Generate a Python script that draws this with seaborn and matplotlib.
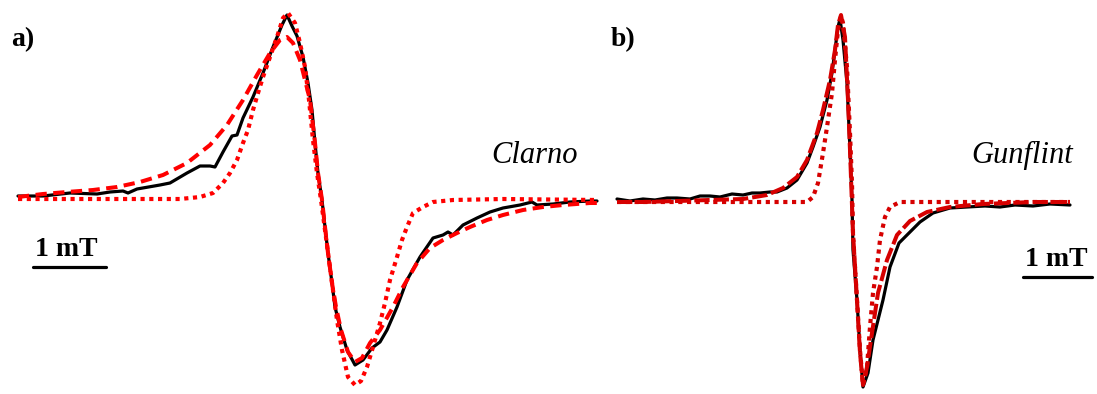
import numpy as np
import pandas as pd
import matplotlib
matplotlib.use("Agg")
import matplotlib.pyplot as plt
import seaborn as sns

sns.set_style("white")
plt.rcParams["font.family"] = ["Liberation Serif", "DejaVu Serif"]
plt.rcParams["text.color"] = "black"

# Panel a) Clarno: field (a.u.) and signal (a.u.)
clarno_exp_x = [18, 43, 70, 97, 110, 123, 128, 137, 160, 170, 187, 200, 210, 215, 223, 232, 237,
                243, 253, 263, 273, 282, 287, 292, 297, 303, 308, 312, 315, 318, 322, 325, 328,
                332, 335, 340, 347, 355, 363, 372, 380, 387, 397, 407, 420, 433, 443, 448, 453,
                463, 477, 490, 503, 520, 532, 537, 553, 570, 590, 597]
clarno_exp_y = [2, 2, 5, 4, 6, 7, 5, 9, 13, 15, 25, 32, 32, 31, 46, 62, 63,
                80, 101, 125, 151, 173, 183, 172, 162, 141, 115, 88, 55, 25, -2, -29, -55,
                -85, -109, -129, -152, -167, -162, -150, -144, -132, -109, -82, -59, -40, -37, -34, -37,
                -27, -20, -14, -10, -7, -4, -7, -6, -4, -3, -3]

clarno_fit1_x = [18, 43, 67, 93, 117, 140, 163, 187, 210, 227, 243, 257, 270, 280, 287, 293, 300,
                 305, 310, 315, 318, 322, 325, 328, 332, 336, 341, 348, 355, 362, 370, 380, 393,
                 403, 417, 430, 443, 457, 470, 487, 503, 523, 543, 563, 590, 597]
clarno_fit1_y = [1, 4, 6, 8, 11, 16, 23, 35, 53, 73, 98, 123, 145, 158, 161, 155, 138,
                 118, 98, 55, 25, -2, -29, -55, -85, -109, -132, -154, -164, -160, -145, -132, -109,
                 -89, -65, -50, -42, -35, -29, -22, -17, -12, -9, -7, -5, -5]

clarno_fit2_x = [18, 100, 180, 200, 213, 223, 230, 237, 243, 248, 253, 258, 263, 270, 277, 283, 288,
                 295, 300, 305, 309, 313, 317, 321, 325, 329, 333, 337, 342, 348, 355, 361, 367,
                 373, 380, 385, 390, 397, 402, 407, 413, 423, 433, 453, 503, 597]
clarno_fit2_y = [-1, -1, -1, 1, 5, 15, 25, 38, 55, 68, 88, 105, 121, 141, 161, 180, 185,
                 175, 155, 131, 98, 58, 25, -2, -32, -62, -92, -122, -152, -179, -187, -183, -169,
                 -149, -125, -105, -82, -59, -42, -29, -15, -9, -4, -2, -1, -2]

# Panel b) Gunflint
gunflint_exp_x = [17, 30, 43, 55, 67, 77, 90, 100, 110, 120, 132, 143, 152, 160, 170, 177, 187,
                  197, 207, 213, 220, 227, 232, 235, 238, 240, 243, 247, 250, 252, 253, 257, 260,
                  263, 268, 273, 283, 290, 299, 310, 320, 333, 350, 367, 385, 400, 415, 433, 450, 470]
gunflint_exp_y = [2, 0, 2, 1, 3, 3, 2, 5, 5, 4, 7, 6, 8, 8, 9, 9, 13,
                  21, 38, 54, 74, 101, 128, 151, 174, 182, 161, 118, 51, 1, -49, -99, -149,
                  -186, -172, -139, -99, -66, -42, -31, -21, -12, -7, -6, -5, -6, -4, -5, -3, -4]

gunflint_fit1_x = [17, 43, 77, 110, 143, 167, 183, 197, 207, 217, 223, 230, 235, 238, 241, 245, 248,
                   250, 253, 257, 260, 263, 267, 272, 278, 287, 297, 310, 327, 350, 383, 433, 470]
gunflint_fit1_y = [-1, -1, 0, 1, 2, 6, 13, 24, 41, 68, 91, 121, 151, 176, 186, 164, 101,
                   51, -32, -99, -152, -184, -166, -132, -92, -59, -34, -20, -11, -6, -3, -1, -1]

gunflint_fit2_x = [17, 100, 207, 213, 218, 223, 227, 232, 235, 238, 241, 243, 247, 250, 252, 253, 257,
                   260, 263, 267, 270, 273, 277, 280, 285, 290, 300, 367, 470]
gunflint_fit2_y = [-1, -1, -1, 4, 18, 48, 74, 108, 141, 171, 185, 178, 134, 68, 18, -32, -99,
                   -149, -184, -166, -126, -92, -66, -39, -16, -6, -1, -1, -1]

W, H = 1097, 394
fig = plt.figure(figsize=(W / 100, H / 100), dpi=100)
ax_a = fig.add_axes([0, 0, 600 / W, 1])
ax_b = fig.add_axes([600 / W, 0, 497 / W, 1])


def draw(ax, ex, ey, f1x, f1y, f2x, f2y, red, dash):
    sns.lineplot(x=ex, y=ey, ax=ax, color="black", lw=2.3, estimator=None, sort=False, zorder=2)
    sns.lineplot(x=f1x, y=f1y, ax=ax, color=red, lw=2.9, estimator=None, sort=False,
                 zorder=3).lines[-1].set_dashes(dash)
    sns.lineplot(x=f2x, y=f2y, ax=ax, color=red, lw=3.0, estimator=None, sort=False,
                 zorder=4).lines[-1].set_dashes((1, 1.1))
    ax.set_axis_off()


draw(ax_a, clarno_exp_x, clarno_exp_y, clarno_fit1_x, clarno_fit1_y, clarno_fit2_x, clarno_fit2_y,
     "#ff0000", (2.8, 1.6))
ax_a.set_xlim(0, 600)
ax_a.set_ylim(198 - H, 198)

draw(ax_b, gunflint_exp_x, gunflint_exp_y, gunflint_fit1_x, gunflint_fit1_y, gunflint_fit2_x, gunflint_fit2_y,
     "#d60000", (3.8, 1.0))
ax_b.set_xlim(0, 497)
ax_b.set_ylim(201 - H, 201)

# panel labels and sample names
fig.text(11 / W, 1 - 46 / H, "a)", fontsize=20, fontweight="bold", va="baseline")
fig.text(611 / W, 1 - 46 / H, "b)", fontsize=20, fontweight="bold", va="baseline")
fig.text(491 / W, 1 - 163 / H, "Clarno", fontsize=22, style="italic", va="baseline")
fig.text(971 / W, 1 - 163 / H, "Gunflint", fontsize=22, style="italic", va="baseline")

# 1 mT scale bars
fig.text(35 / W, 1 - 256 / H, "1 mT", fontsize=20, fontweight="bold", va="baseline")
fig.add_artist(plt.Line2D([33 / W, 106 / W], [1 - 267 / H, 1 - 267 / H], color="black", lw=2.3))
fig.text(1025 / W, 1 - 266 / H, "1 mT", fontsize=20, fontweight="bold", va="baseline")
fig.add_artist(plt.Line2D([1023 / W, 1092 / W], [1 - 277 / H, 1 - 277 / H], color="black", lw=2.3))

fig.savefig("out.png", dpi=100, facecolor="white")
